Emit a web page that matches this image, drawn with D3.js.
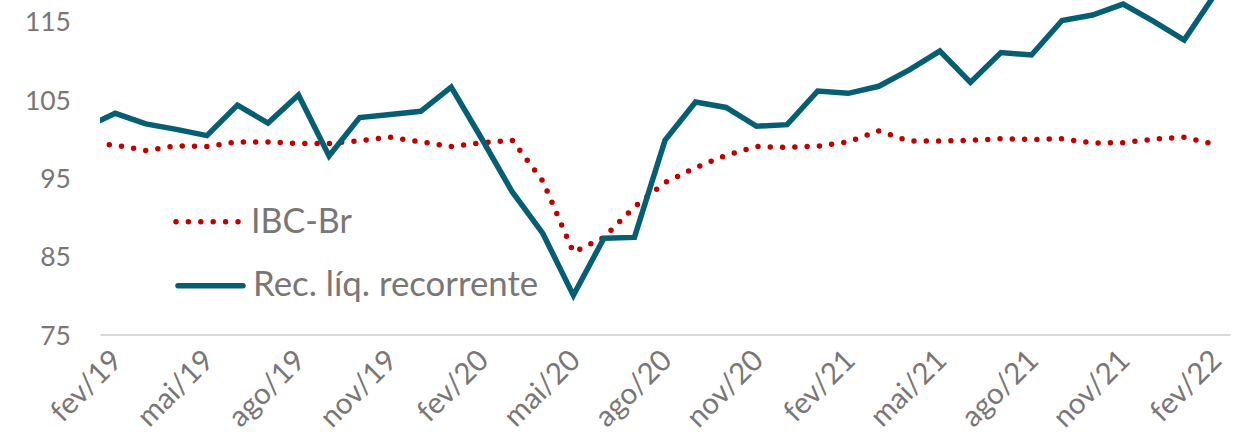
<!DOCTYPE html>
<html>
<head>
<meta charset="utf-8">
<script src="https://cdn.jsdelivr.net/npm/d3@7"></script>
<style>
  html, body { margin: 0; padding: 0; background: #fff; }
  svg { display: block; }
  text { font-family: Lato, "Noto Sans", sans-serif; }
</style>
</head>
<body>
<svg id="chart" width="1238" height="442"></svg>
<script>
// Monthly series; the first entry (jan/19) only feeds the segment entering the plot edge.
const months = [
  "jan/19","fev/19","mar/19","abr/19","mai/19","jun/19","jul/19","ago/19","set/19","out/19","nov/19","dez/19",
  "jan/20","fev/20","mar/20","abr/20","mai/20","jun/20","jul/20","ago/20","set/20","out/20","nov/20","dez/20",
  "jan/21","fev/21","mar/21","abr/21","mai/21","jun/21","jul/21","ago/21","set/21","out/21","nov/21","dez/21",
  "jan/22","fev/22"
];
const ibcBr = [
  99.4, 99.2, 98.5, 99.1, 99.0, 99.6, 99.6, 99.4, 99.4, 99.75, 100.2, 99.6,
  99.0, 99.5, 99.8, 94.6, 85.5, 87.4, 91.3, 94.4, 96.3, 97.9, 99.0, 98.9,
  99.05, 99.6, 101.0, 99.7, 99.7, 99.8, 100.0, 99.9, 100.0, 99.45, 99.5, 99.95,
  100.2, 99.3
];
const recLiq = [
  101.4, 103.25, 101.9, 101.2, 100.4, 104.3, 102.0, 105.6, 97.8, 102.7, 103.1, 103.5,
  106.6, 100.0, 93.2, 87.9, 80.0, 87.3, 87.4, 99.8, 104.7, 104.0, 101.6, 101.8,
  106.1, 105.8, 106.7, 108.8, 111.2, 107.2, 111.0, 110.7, 115.1, 115.8, 117.2, 115.0,
  112.6, 118.4
];
const tickLabels = ["fev/19","mai/19","ago/19","nov/19","fev/20","mai/20","ago/20","nov/20","fev/21","mai/21","ago/21","nov/21","fev/22"];
const yTicks = [75, 85, 95, 105, 115];
const seriesNames = ["IBC-Br", "Rec. líq. recorrente"];

const colors = { ibc: "#C00000", rec: "#065E73", text: "#7A7676", axis: "#D9D9D9" };

const svg = d3.select("#chart");
const plot = { left: 100, right: 1230, top: 0, bottom: 334.5 };

// index 0 = fev/19 sits at the centre of the first category slot
const x = d3.scaleLinear().domain([-0.5, 36.5]).range([plot.left, plot.right]);
const y = d3.scaleLinear().domain([75, 115]).range([334.5, 21.3]);
const idx = m => months.indexOf(m) - 1;

svg.append("defs").append("clipPath").attr("id", "plotClip")
  .append("rect").attr("x", plot.left).attr("y", -50)
  .attr("width", plot.right - plot.left).attr("height", plot.bottom + 50);

// y axis labels (no tick lines, no gridlines)
const yAxis = d3.axisLeft(y).tickValues(yTicks).tickSize(0).tickPadding(0);
const gy = svg.append("g").attr("transform", "translate(71,0)").call(yAxis);
gy.select(".domain").remove();
gy.selectAll("text")
  .attr("fill", colors.text).style("font-size", "26.5px")
  .attr("dy", "0.36em");

// x axis baseline
const xAxis = d3.axisBottom(x).tickValues([]).tickSize(0).tickSizeOuter(0);
const gx = svg.append("g").attr("transform", `translate(0,${plot.bottom})`).call(xAxis);
gx.select(".domain").attr("stroke", colors.axis).attr("stroke-width", 2);

// rotated quarterly labels
svg.append("g").selectAll("text").data(tickLabels).join("text")
  .attr("transform", d => `translate(${x(idx(d)) - 6},${plot.bottom + 13}) rotate(-45)`)
  .attr("text-anchor", "end")
  .attr("dy", "0.7em")
  .attr("fill", colors.text)
  .style("font-size", "29.5px")
  .text(d => d);

const lineGen = d3.line()
  .x((d, i) => x(i - 1))
  .y(d => y(d));

const lines = svg.append("g").attr("clip-path", "url(#plotClip)");

lines.append("path").datum(ibcBr)
  .attr("d", lineGen)
  .attr("fill", "none")
  .attr("stroke", colors.ibc)
  .attr("stroke-width", 5.5)
  .attr("stroke-linecap", "round")
  .attr("stroke-dasharray", "0 12.3");

lines.append("path").datum(recLiq)
  .attr("d", lineGen)
  .attr("fill", "none")
  .attr("stroke", colors.rec)
  .attr("stroke-width", 5.5)
  .attr("stroke-linejoin", "miter");

// legend
const legend = svg.append("g");
legend.append("line")
  .attr("x1", 176).attr("x2", 239).attr("y1", 221.7).attr("y2", 221.7)
  .attr("stroke", colors.ibc).attr("stroke-width", 5.5)
  .attr("stroke-linecap", "round").attr("stroke-dasharray", "0 12.4");
legend.append("text").attr("x", 251).attr("y", 233)
  .attr("fill", colors.text).style("font-size", "34px").text(seriesNames[0]);
legend.append("line")
  .attr("x1", 178).attr("x2", 243).attr("y1", 285.7).attr("y2", 285.7)
  .attr("stroke", colors.rec).attr("stroke-width", 5.5)
  .attr("stroke-linecap", "round");
legend.append("text").attr("x", 253).attr("y", 296)
  .attr("fill", colors.text).style("font-size", "34.8px").text(seriesNames[1]);
</script>
</body>
</html>
